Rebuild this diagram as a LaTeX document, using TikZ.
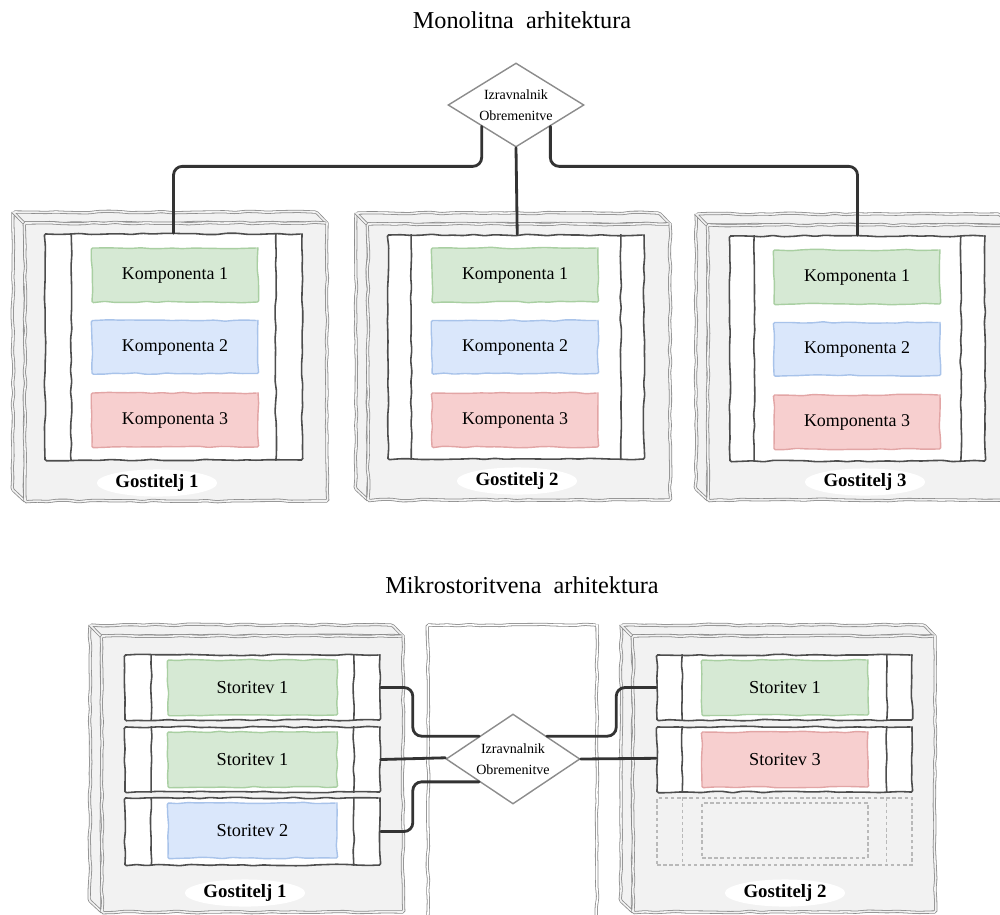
\documentclass[tikz,border=0pt]{standalone}
\usepackage{fontspec}
\setmainfont{Liberation Serif}
\usetikzlibrary{shapes.geometric,decorations.pathmorphing,fit}

\definecolor{hostfill}{HTML}{F2F2F2}
\definecolor{hostedge}{HTML}{8C8C8C}
\definecolor{paneledge}{HTML}{4D4D4D}
\definecolor{wirecol}{HTML}{333333}
\definecolor{cgreen}{HTML}{D6E9D4}
\definecolor{cgreenline}{HTML}{A9CFA2}
\definecolor{cblue}{HTML}{DAE7FB}
\definecolor{cblueline}{HTML}{A8C3EA}
\definecolor{cred}{HTML}{F7CFCF}
\definecolor{credline}{HTML}{E2A5A5}

% a box seen slightly from the upper left: left face, top face, front face
\newcommand\hostbox[5]{%
  \path[hostline,fill=hostfill] (#2-12,#3-11) -- (#2,#3) -- (#2,#5) -- (#2-12,#5-11) -- cycle;
  \path[hostline,fill=hostfill] (#2-12,#3-11) -- (#4-12,#3-11) -- (#4,#3) -- (#2,#3) -- cycle;
  \node[hostface,fit={(#2,#3) (#4,#5)}] (#1) {};
}
% the two vertical bars inside a panel or a row
\newcommand\bars[2]{%
  \draw[divider] ([xshift=#2]#1.north west) -- ([xshift=#2]#1.south west);
  \draw[divider] ([xshift=-#2]#1.north east) -- ([xshift=-#2]#1.south east);
}

\begin{document}
\begin{tikzpicture}[x=0.02cm,y=-0.02cm,
  sketch/.style={decorate,decoration={random steps,segment length=6pt,amplitude=0.45pt},rounded corners=0.8pt},
  hostline/.style={sketch,draw=hostedge,double=hostfill,double distance=0.9pt,line width=0.45pt},
  hostface/.style={hostline,fill=hostfill,inner sep=0pt},
  panel/.style={sketch,draw=paneledge,fill=white,line width=0.9pt,inner sep=0pt},
  divider/.style={sketch,draw=paneledge,line width=0.9pt},
  comp/.style={sketch,inner sep=0pt,line width=0.8pt,font=\fontsize{10.2}{12}\selectfont},
  svc/.style={comp,font=\fontsize{10.4}{12}\selectfont},
  fillgreen/.style={fill=cgreen,draw=cgreenline},
  fillblue/.style={fill=cblue,draw=cblueline},
  fillred/.style={fill=cred,draw=credline},
  hostlabel/.style={ellipse,fill=white,inner sep=0.6pt,font=\bfseries\fontsize{10.7}{12}\selectfont},
  heading/.style={font=\fontsize{13.8}{16}\selectfont},
  balancer/.style={diamond,draw=hostedge,fill=white,line width=0.8pt,inner sep=0pt,align=center,
    font=\fontsize{8}{12}\selectfont},
  wire/.style={draw=wirecol,line width=1.6pt,rounded corners=5pt,line cap=round},
  ghost/.style={draw=gray!55,line width=0.8pt,dash pattern=on 2pt off 1.5pt},
]
\pgfmathsetseed{7}
\useasboundingbox (0,0) rectangle (1000,914);
\clip (0,0) rectangle (1000,914);

%% ---------------- monolithic architecture ----------------
\node[heading] (titleA) at (522,20) {Monolitna\ \ arhitektura};

\node[balancer,aspect=1.6,minimum width=2.72cm,minimum height=1.68cm] (lbA) at (516,105)
  {Izravnalnik\\Obremenitve};

\hostbox{hostA1}{25}{223}{327}{501}
\hostbox{hostA2}{368}{224}{670}{500}
\hostbox{hostA3}{708}{225}{1010}{500}

\node[panel,fit={(45,234) (302,460)}] (panA1) {};
\node[panel,fit={(388,235) (644,459)}] (panA2) {};
\node[panel,fit={(730,236) (985,461)}] (panA3) {};
\bars{panA1}{0.54cm}
\bars{panA2}{0.48cm}
\bars{panA3}{0.5cm}

\foreach \h/\cx/\dy in {1/175/0,2/515/0,3/857/2}{
  \node[comp,fillgreen,minimum width=3.32cm,minimum height=1.08cm] (k\h a) at (\cx,275+\dy) {Komponenta 1};
  \node[comp,fillblue,minimum width=3.32cm,minimum height=1.06cm] (k\h b) at (\cx,347+\dy) {Komponenta 2};
  \node[comp,fillred,minimum width=3.32cm,minimum height=1.08cm] (k\h c) at (\cx,420+\dy) {Komponenta 3};
}

\node[hostlabel] (labA1) at (157,483) {Gostitelj 1};
\node[hostlabel] (labA2) at (517,481) {Gostitelj 2};
\node[hostlabel] (labA3) at (865,482) {Gostitelj 3};

% load balancer to the three hosts
\draw[wire] (lbA.south west) -- ++(0,40) -| (panA1.north);
\draw[wire] (lbA.south) -- ([xshift=0.7pt]panA2.north);
\draw[wire] (lbA.south east) -- ++(0,40) -| (panA3.north);

%% ---------------- microservice architecture ----------------
\node[heading] (titleB) at (522,585) {Mikrostoritvena\ \ arhitektura};

\hostbox{hostB1}{102}{636}{403}{912}
\hostbox{hostB2}{633}{636}{935}{912}
\node[hostline,fill=white,double=white,inner sep=0pt,fit={(428,625) (597,930)}] (middle) {};

% rows of the first host
\node[panel,fit={(125,655) (380,720)}] (rowB1a) {};
\node[panel,fit={(125,727) (380,792)}] (rowB1b) {};
\node[panel,fit={(125,798) (380,865)}] (rowB1c) {};
\bars{rowB1a}{0.54cm}
\bars{rowB1b}{0.54cm}
\bars{rowB1c}{0.54cm}
\node[svc,fillgreen,minimum width=3.38cm,minimum height=1.1cm] (s1a) at (252.5,687.5) {Storitev 1};
\node[svc,fillgreen,minimum width=3.38cm,minimum height=1.1cm] (s1b) at (252.5,759.5) {Storitev 1};
\node[svc,fillblue,minimum width=3.38cm,minimum height=1.1cm] (s1c) at (252.5,830.5) {Storitev 2};

% rows of the second host, the last one still empty
\node[panel,fit={(657,655) (912,720)}] (rowB2a) {};
\node[panel,fit={(657,727) (912,792)}] (rowB2b) {};
\node[ghost,inner sep=0pt,fit={(657,798) (912,865)}] (rowB2c) {};
\bars{rowB2a}{0.52cm}
\bars{rowB2b}{0.52cm}
\draw[ghost] ([xshift=0.52cm]rowB2c.north west) -- ([xshift=0.52cm]rowB2c.south west);
\draw[ghost] ([xshift=-0.52cm]rowB2c.north east) -- ([xshift=-0.52cm]rowB2c.south east);
\node[svc,fillgreen,minimum width=3.32cm,minimum height=1.1cm] (s2a) at (785,687.5) {Storitev 1};
\node[svc,fillred,minimum width=3.32cm,minimum height=1.1cm] (s2b) at (785,759.5) {Storitev 3};
\node[ghost,inner sep=0pt,minimum width=3.32cm,minimum height=1.1cm] (s2c) at (785,830.5) {};

\node[hostlabel] (labB1) at (245,893) {Gostitelj 1};
\node[hostlabel] (labB2) at (785,893) {Gostitelj 2};

\node[balancer,aspect=1.5,minimum width=2.68cm,minimum height=1.8cm] (lbB) at (513,759)
  {Izravnalnik\\Obremenitve};

% services to the load balancer
\draw[wire] (rowB1a.east) -- ++(32,0) |- (lbB.north west);
\draw[wire] (rowB1b.east) -- ([yshift=0.7pt]lbB.west);
\draw[wire] (rowB1c.east) -- ++(32,0) |- (lbB.south west);
\draw[wire] (rowB2a.west) -- ++(-40,0) |- (lbB.north east);
\draw[wire] (lbB.east) -- ([yshift=0.7pt]rowB2b.west);
\end{tikzpicture}
\end{document}
